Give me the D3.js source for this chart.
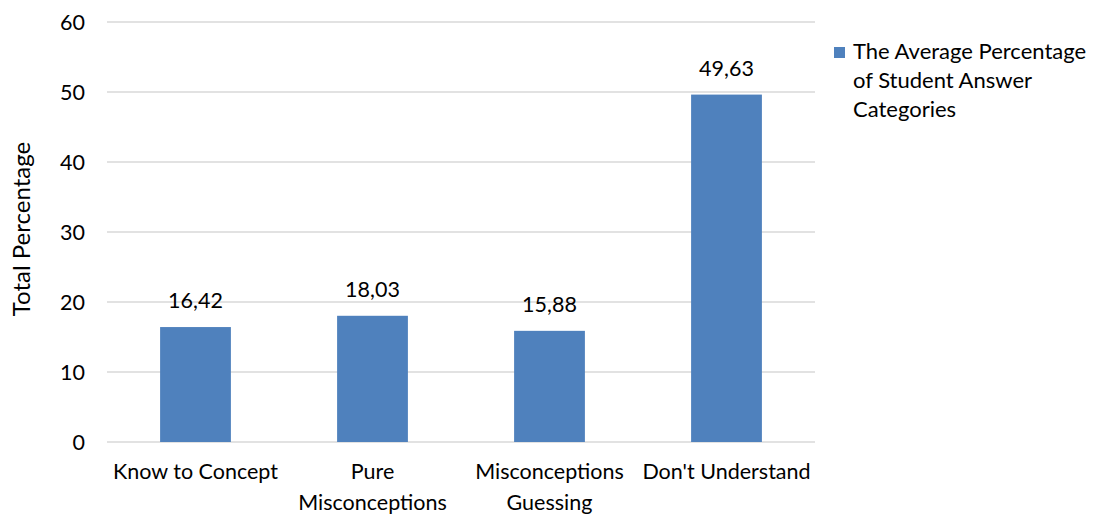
<!DOCTYPE html>
<html>
<head>
<meta charset="utf-8">
<script src="https://cdn.jsdelivr.net/npm/d3@7"></script>
<style>
  body { margin: 0; background: #fff; }
  svg text { font-family: Lato, "Open Sans", sans-serif; fill: #000; }
</style>
</head>
<body>
<svg id="chart" width="1094" height="516"></svg>
<script>
const categories = [["Know to Concept"], ["Pure", "Misconceptions"], ["Misconceptions", "Guessing"], ["Don't Understand"]];
const values = [16.42, 18.03, 15.88, 49.63];
const yTicks = [0, 10, 20, 30, 40, 50, 60];
const seriesName = ["The Average Percentage", "of Student Answer", "Categories"];
const yTitle = "Total Percentage";

const svg = d3.select("#chart");
const plot = { left: 107, right: 815, top: 22, bottom: 442 };
const fontSize = 21.5;

const x = d3.scaleBand()
  .domain(categories.map((d, i) => i))
  .range([plot.left, plot.right])
  .paddingInner(0.6)
  .paddingOuter(0.3);

const y = d3.scaleLinear().domain([0, 60]).range([plot.bottom, plot.top]);

// horizontal gridlines
svg.append("g")
  .selectAll("line")
  .data(yTicks)
  .join("line")
  .attr("x1", plot.left).attr("x2", plot.right)
  .attr("y1", d => y(d)).attr("y2", d => y(d))
  .attr("stroke", "#d9d9d9").attr("stroke-width", 1.3);

// y tick labels
svg.append("g")
  .selectAll("text")
  .data(yTicks)
  .join("text")
  .attr("x", 85)
  .attr("y", d => y(d))
  .attr("dy", "0.35em")
  .attr("text-anchor", "end")
  .style("font-size", fontSize + "px")
  .text(d => d);

// bars
svg.append("g")
  .selectAll("rect")
  .data(values)
  .join("rect")
  .attr("x", (d, i) => x(i))
  .attr("width", x.bandwidth())
  .attr("y", d => y(d))
  .attr("height", d => y(0) - y(d))
  .attr("fill", "#4f81bd");

// value labels
svg.append("g")
  .selectAll("text")
  .data(values)
  .join("text")
  .attr("x", (d, i) => x(i) + x.bandwidth() / 2)
  .attr("y", d => y(d) - 19)
  .attr("text-anchor", "middle")
  .style("font-size", fontSize + "px")
  .text(d => d.toFixed(2).replace(".", ","));

// category labels
const catG = svg.append("g")
  .selectAll("text")
  .data(categories)
  .join("text")
  .attr("text-anchor", "middle")
  .style("font-size", fontSize + "px");
catG.selectAll("tspan")
  .data((d, i) => d.map(t => ({ t, i })))
  .join("tspan")
  .attr("x", d => x(d.i) + x.bandwidth() / 2)
  .attr("y", (d, j) => 479 + j * 31)
  .text(d => d.t);

// y axis title
svg.append("text")
  .attr("transform", "translate(30,229) rotate(-90)")
  .attr("text-anchor", "middle")
  .style("font-size", "24px")
  .text(yTitle);

// legend
svg.append("rect")
  .attr("x", 834).attr("y", 47).attr("width", 11).attr("height", 11)
  .attr("fill", "#4f81bd");
svg.append("text")
  .style("font-size", "22px")
  .selectAll("tspan")
  .data(seriesName)
  .join("tspan")
  .attr("x", 853)
  .attr("y", (d, i) => 59 + i * 29)
  .text(d => d);
</script>
</body>
</html>
